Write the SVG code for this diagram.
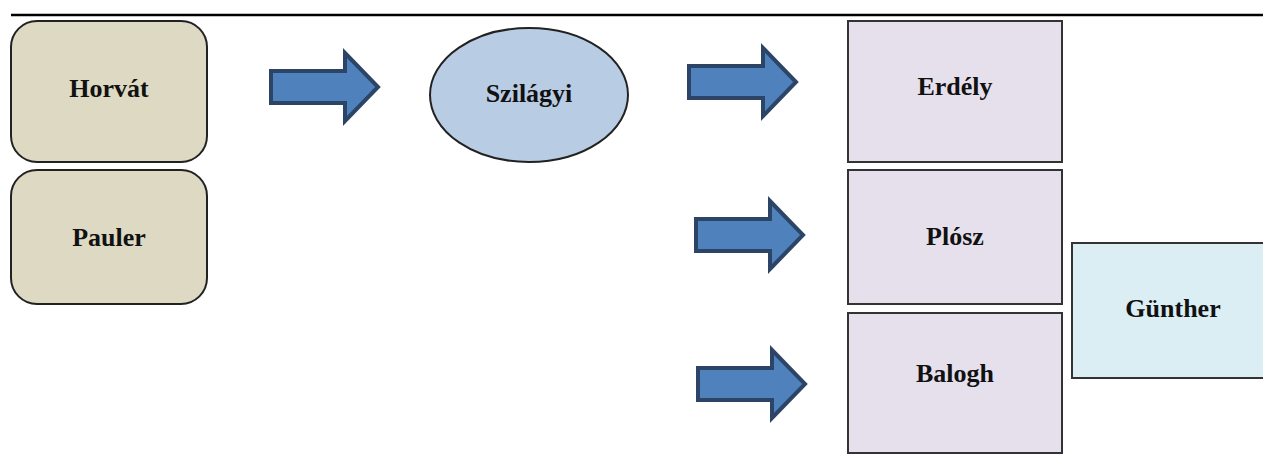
<svg xmlns="http://www.w3.org/2000/svg" xmlns:xlink="http://www.w3.org/1999/xlink" width="1263" height="462" viewBox="0 0 1263 462">
<style>
.lbl{font-family:"Liberation Serif","Times New Roman",serif;font-weight:bold;font-size:26px;fill:#111;text-anchor:middle}
.tan{fill:#ddd9c3;stroke:#222;stroke-width:2}
.ell{fill:#b8cce4;stroke:#222;stroke-width:2}
.pur{fill:#e5e0ec;stroke:#333;stroke-width:2}
.cyan{fill:#daeef3;stroke:#333;stroke-width:2}
.arr{fill:#4f81bd;stroke:#2c4566;stroke-width:4;stroke-linejoin:miter}
</style>
<defs>
<path id="arrow" d="M0,-16 L74,-16 L74,-34 L107,0 L74,34 L74,16 L0,16 Z"/>
</defs>
<rect width="1263" height="462" fill="#fff"/>
<line x1="11" y1="15" x2="1263" y2="15" stroke="#000" stroke-width="2.5"/>
<g id="connectors">
<use xlink:href="#arrow" class="arr" transform="translate(271,87)"/>
<use xlink:href="#arrow" class="arr" transform="translate(689,82)"/>
<use xlink:href="#arrow" class="arr" transform="translate(696,235)"/>
<use xlink:href="#arrow" class="arr" transform="translate(698,384)"/>
</g>
<g id="horvat"><rect class="tan" x="11" y="21" width="196" height="141" rx="26"/><text class="lbl" x="109" y="97">Horvát</text></g>
<g id="pauler"><rect class="tan" x="11" y="170" width="196" height="134" rx="26"/><text class="lbl" x="109" y="246">Pauler</text></g>
<g id="szilagyi"><ellipse class="ell" cx="529" cy="95" rx="99" ry="67"/><text class="lbl" x="529" y="102">Szilágyi</text></g>
<g id="erdely"><rect class="pur" x="848" y="21" width="214" height="141"/><text class="lbl" x="955" y="95">Erdély</text></g>
<g id="plosz"><rect class="pur" x="848" y="170" width="214" height="134"/><text class="lbl" x="955" y="245">Plósz</text></g>
<g id="balogh"><rect class="pur" x="848" y="313" width="214" height="140"/><text class="lbl" x="955" y="382">Balogh</text></g>
<g id="gunther"><rect class="cyan" x="1072" y="243" width="200" height="135"/><text class="lbl" x="1173" y="317">Günther</text></g>
</svg>
